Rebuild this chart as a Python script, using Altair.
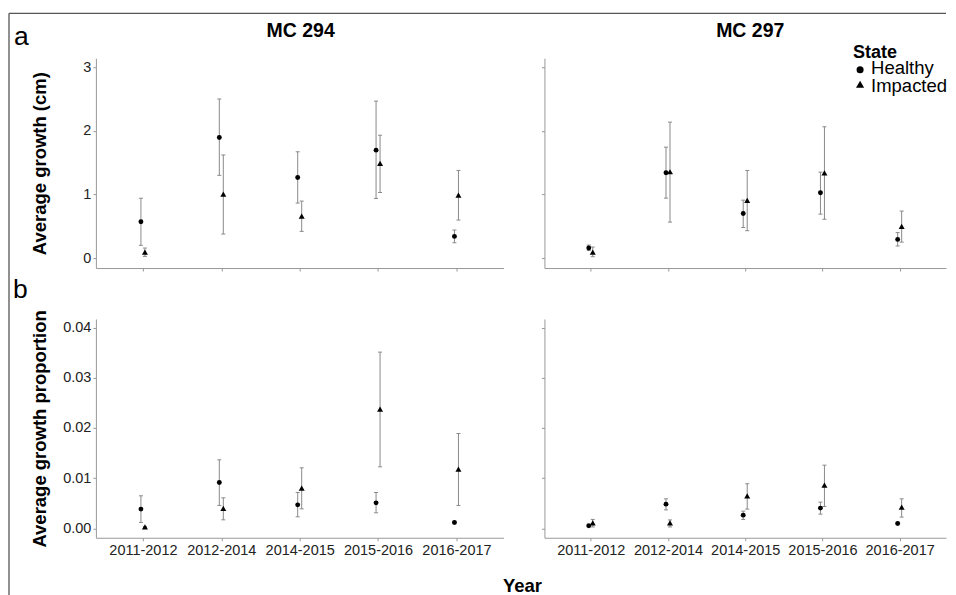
import json
import altair as alt
import pandas as pd

# ---------------- data ----------------
years = ["2011-2012", "2012-2014", "2014-2015", "2015-2016", "2016-2017"]
sites = ["MC 294", "MC 297"]
states = ["Healthy", "Impacted"]

# Average growth (cm)
g294_h = [0.57, 1.895, 1.267, 1.696, 0.34]
g294_h_lo = [0.20, 1.30, 0.864, 0.937, 0.24]
g294_h_hi = [0.94, 2.50, 1.67, 2.466, 0.44]
g294_i = [0.094, 1.005, 0.66, 1.487, 0.99]
g294_i_lo = [0.026, 0.377, 0.419, 1.03, 0.597]
g294_i_hi = [0.157, 1.62, 0.895, 1.93, 1.377]

g297_h = [0.157, 1.34, 0.70, 1.026, 0.293]
g297_h_lo = [0.12, 0.942, 0.48, 0.69, 0.19]
g297_h_hi = [0.204, 1.743, 0.91, 1.35, 0.40]
g297_i = [0.094, 1.356, 0.906, 1.34, 0.497]
g297_i_lo = [0.021, 0.565, 0.43, 0.61, 0.25]
g297_i_hi = [0.173, 2.136, 1.377, 2.063, 0.738]

# Average growth proportion
p294_h = [0.00385, 0.00915, 0.0047, 0.0051, 0.0012]
p294_h_lo = [0.0012, 0.00458, 0.00232, 0.00312, 0.0011]
p294_h_hi = [0.0065, 0.01366, 0.00716, 0.00716, 0.0013]
p294_i = [0.0003, 0.00398, 0.00803, 0.02375, 0.0118]
p294_i_lo = [0.0002, 0.00172, 0.00391, 0.01227, 0.00458]
p294_i_hi = [0.0004, 0.0061, 0.01207, 0.0351, 0.0189]

p297_h = [0.00053, 0.00484, 0.00265, 0.00405, 0.001]
p297_h_lo = [0.0004, 0.0037, 0.0018, 0.00285, 0.0009]
p297_h_hi = [0.0007, 0.0059, 0.00345, 0.00524, 0.0011]
p297_i = [0.00113, 0.00113, 0.0065, 0.00862, 0.00425]
p297_i_lo = [0.0003, 0.0003, 0.00385, 0.00438, 0.00226]
p297_i_hi = [0.0018, 0.0017, 0.0089, 0.0126, 0.0059]

growth_ticks = [0, 1, 2, 3]
prop_ticks = [0.00, 0.01, 0.02, 0.03, 0.04]

series = [
    ("MC 294", "growth", "Healthy", g294_h, g294_h_lo, g294_h_hi),
    ("MC 294", "growth", "Impacted", g294_i, g294_i_lo, g294_i_hi),
    ("MC 297", "growth", "Healthy", g297_h, g297_h_lo, g297_h_hi),
    ("MC 297", "growth", "Impacted", g297_i, g297_i_lo, g297_i_hi),
    ("MC 294", "prop", "Healthy", p294_h, p294_h_lo, p294_h_hi),
    ("MC 294", "prop", "Impacted", p294_i, p294_i_lo, p294_i_hi),
    ("MC 297", "prop", "Healthy", p297_h, p297_h_lo, p297_h_hi),
    ("MC 297", "prop", "Impacted", p297_i, p297_i_lo, p297_i_hi),
]
rows = []
for site, meas, state, m, lo, hi in series:
    for y, a, b, c in zip(years, m, lo, hi):
        rows.append(dict(site=site, measure=meas, year=y, state=state, mean=a, lo=b, hi=c))
df = pd.DataFrame(rows)
legend_df = pd.DataFrame({"state": states})

FONT = "Liberation Sans"
W_LEFT, W_RIGHT, H_TOP, H_BOT = 408, 402, 210, 219
DODGE_PX = 2.0
years_js = json.dumps(years)
ERR = "#8a8a8a"
SHAPE_SCALE = alt.Scale(domain=states, range=["circle", "triangle-up"])
LEGEND_SIZES = [50, 66]


def panel(site, meas, left, bottom):
    w = W_LEFT if left else W_RIGHT
    dodge = DODGE_PX * 5.2 / w
    if meas == "growth":
        dom, ticks, fmt, ytitle, h = [-0.157, 3.14], growth_ticks, "d", "Average growth (cm)", H_TOP
    else:
        dom, ticks, fmt, ytitle, h = [-0.00185, 0.0417], prop_ticks, ".2f", "Average growth proportion", H_BOT
    base = alt.Chart(df).transform_filter(
        (alt.datum.site == site) & (alt.datum.measure == meas)
    ).transform_calculate(
        pos=f"indexof({years_js}, datum.year) + 1 + (datum.state == 'Healthy' ? -{dodge} : {dodge})"
    ).transform_calculate(
        capL=f"datum.pos - {dodge}", capR=f"datum.pos + {dodge}"
    )
    xaxis = alt.Axis(values=[1, 2, 3, 4, 5], labelExpr=f"{years_js}[datum.value - 1]",
                     labels=bottom, title=None, grid=False, tickSize=3,
                     labelFontSize=14.5, labelColor="#222", labelPadding=3,
                     domainColor="#999", tickColor="#999")
    yaxis = alt.Axis(values=ticks, format=fmt, labels=left, title=ytitle if left else None,
                     grid=False, tickSize=3, labelFontSize=14.5, labelColor="#222", labelPadding=2,
                     domainColor="#999", tickColor="#999", titleFontSize=18.5, titleFontWeight="bold",
                     titleColor="black", minExtent=34, maxExtent=34, titlePadding=12)
    xs = alt.Scale(domain=[0.4, 5.6], nice=False, zero=False)
    ys = alt.Scale(domain=dom, nice=False, zero=False)
    x = alt.X("pos:Q", scale=xs, axis=xaxis)
    y = alt.Y("mean:Q", scale=ys, axis=yaxis)
    bars = base.mark_rule(color=ERR, strokeWidth=1).encode(x=x, y=alt.Y("lo:Q", scale=ys), y2="hi:Q")
    cap_hi = base.mark_rule(color=ERR, strokeWidth=1).encode(
        x=alt.X("capL:Q", scale=xs), x2="capR:Q", y=alt.Y("hi:Q", scale=ys))
    cap_lo = base.mark_rule(color=ERR, strokeWidth=1).encode(
        x=alt.X("capL:Q", scale=xs), x2="capR:Q", y=alt.Y("lo:Q", scale=ys))
    pts = base.mark_point(filled=True, color="black", opacity=1).encode(
        x=x, y=y,
        shape=alt.Shape("state:N", scale=SHAPE_SCALE, legend=None),
        size=alt.Size("state:N", scale=alt.Scale(domain=states, range=[24, 36]), legend=None),
    )
    layers = [bars, cap_hi, cap_lo, pts]
    props = dict(width=w, height=h)
    if meas == "growth":
        props["title"] = alt.Title(site, fontSize=19.5, fontWeight="bold", font=FONT, color="black",
                                   anchor="middle", baseline="alphabetic", offset=2,
                                   dx=1 if left else 5)
    if meas == "prop" and not left:
        # legend, drawn from the bottom-right panel up into the top-right corner
        leg_title = alt.Chart(pd.DataFrame({"t": ["State"]})).mark_text(
            fontSize=18, fontWeight="bold", font=FONT, align="left", baseline="alphabetic", color="black"
        ).encode(text="t:N", x=alt.value(309), y=alt.value(-261))
        layers.append(leg_title)
        for i, s in enumerate(states):
            one = alt.Chart(legend_df).transform_filter(alt.datum.state == s)
            layers.append(one.mark_point(filled=True, color="black", opacity=1, size=LEGEND_SIZES[i]).encode(
                shape=alt.Shape("state:N", scale=SHAPE_SCALE, legend=None),
                x=alt.value(316), y=alt.value(-249.5 + 14.5 * i)))
            layers.append(one.mark_text(fontSize=18.5, font=FONT, align="left", baseline="alphabetic",
                                        color="black").encode(
                text="state:N", x=alt.value(327), y=alt.value(-245 + 17.5 * i)))
    if meas == "prop" and left:
        # panel tags, figure frame and shared x title
        ann = pd.DataFrame({"t": ["a", "b"]})
        tag_a = alt.Chart(ann).transform_filter(alt.datum.t == "a").mark_text(
            fontSize=26.5, font=FONT, align="left", baseline="alphabetic", color="black"
        ).encode(text="t:N", x=alt.value(-82), y=alt.value(-274))
        tag_b = alt.Chart(ann).transform_filter(alt.datum.t == "b").mark_text(
            fontSize=26.5, font=FONT, align="left", baseline="alphabetic", color="black"
        ).encode(text="t:N", x=alt.value(-83), y=alt.value(-21))
        year_t = alt.Chart(pd.DataFrame({"t": ["Year"]})).mark_text(
            fontSize=18.5, font=FONT, fontWeight="bold", align="center", baseline="alphabetic", color="black"
        ).encode(text="t:N", x=alt.value(427), y=alt.value(273))
        frame_l = alt.Chart(ann).transform_filter(alt.datum.t == "a").mark_rule(
            color="#555", strokeWidth=1.3).encode(x=alt.value(-87), y=alt.value(-306), y2=alt.value(280))
        frame_t = alt.Chart(ann).transform_filter(alt.datum.t == "a").mark_rule(
            color="#555", strokeWidth=1.3).encode(x=alt.value(-87), x2=alt.value(851), y=alt.value(-306))
        layers += [tag_a, tag_b, year_t, frame_l, frame_t]
    return alt.layer(*layers).properties(**props)


chart = alt.concat(
    panel("MC 294", "growth", True, False),
    panel("MC 297", "growth", False, False),
    panel("MC 294", "prop", True, True),
    panel("MC 297", "prop", False, True),
    columns=2,
    spacing={"row": 51, "column": 41},
    bounds="flush",
).properties(
    padding={"left": 0, "top": 4, "right": 0, "bottom": 0}
).configure(
    font=FONT
).configure_view(
    stroke=None
)

chart.save("out.html", embed_options={"renderer": "svg", "actions": False})
